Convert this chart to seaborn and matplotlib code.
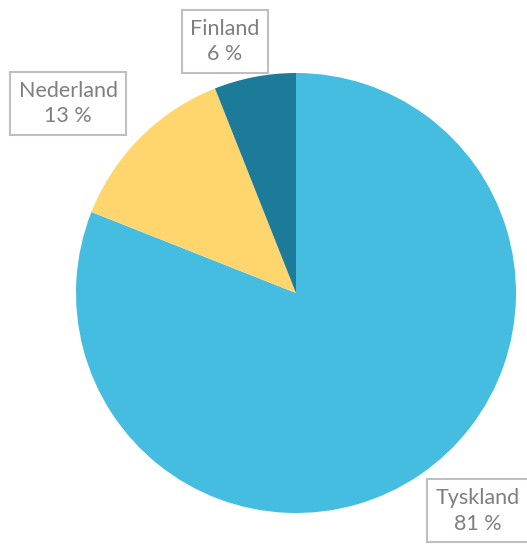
import matplotlib
matplotlib.use('Agg')
import matplotlib.pyplot as plt
import seaborn as sns

countries = ['Tyskland', 'Nederland', 'Finland']
shares = [81, 13, 6]
colors = ['#45BDE1', '#FFD56E', '#1B7B98']

# label positions in pie units (radius = 1)
label_pos = [(0.827, -0.99), (-1.036, 0.862), (-0.323, 1.143)]

sns.set_theme(style='white')
plt.rcParams['font.family'] = ['Lato', 'DejaVu Sans']

fig = plt.figure(figsize=(5.27, 5.44), dpi=100)
ax = fig.add_axes([0, 0, 1, 1])

ax.pie(shares, colors=colors, startangle=90, counterclock=False,
       radius=1, wedgeprops={'linewidth': 0})

for name, val, (x, y) in zip(countries, shares, label_pos):
    ax.text(x, y, f'{name}\n{val} %', ha='center', va='center',
            fontsize=15.5, color='#7F7F7F', linespacing=1.35,
            bbox=dict(boxstyle='square,pad=0.4', fc='white', ec='#BFBFBF', lw=1.5))

ax.set_aspect('auto')
ax.set_xlim(-296 / 220, (527 - 296) / 220)
ax.set_ylim(-(544 - 293) / 220, 293 / 220)
ax.axis('off')

fig.savefig('out.png', dpi=100)
